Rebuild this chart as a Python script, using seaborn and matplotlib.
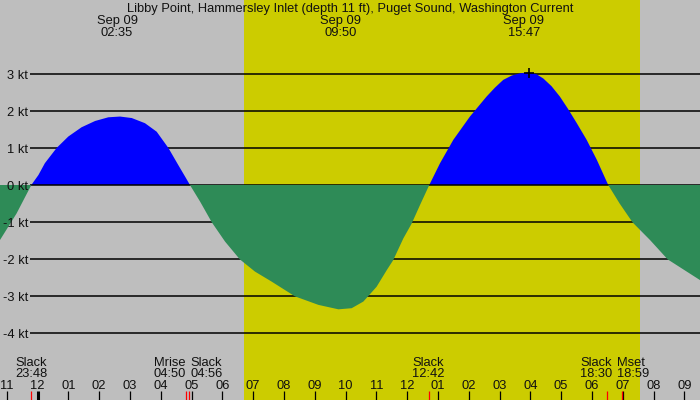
import matplotlib
matplotlib.use("Agg")
import matplotlib.pyplot as plt
import matplotlib.transforms as mtransforms
import numpy as np
import pandas as pd
import seaborn as sns

# ---------------- data ----------------
title = "Libby Point, Hammersley Inlet (depth 11 ft), Puget Sound, Washington Current"

# tidal current, hours after 00:00 Sep 09, knots
curve_hours = [-1.22, -0.95, -0.68, -0.20,
               0.03, 0.24, 0.62, 1.00, 1.43, 1.87, 2.30, 2.68, 3.06, 3.49,
               3.87, 4.25, 4.57, 4.79, 4.95,
               5.28, 5.66, 6.09, 6.57, 7.06, 7.60, 8.36, 9.12, 9.77, 10.20,
               10.58, 11.01, 11.34, 11.55, 11.88, 12.15, 12.42, 12.72,
               13.07, 13.50, 14.04, 14.58, 14.85, 15.12, 15.40, 15.67, 15.95,
               16.21, 16.42, 16.69, 16.96, 17.23, 17.51, 17.83, 18.16, 18.53,
               18.90, 19.32, 19.89, 20.46, 21.51]
curve_knots = [-1.49, -1.13, -0.77, 0.00,
               0.27, 0.59, 1.00, 1.31, 1.56, 1.73, 1.83, 1.85, 1.81, 1.67,
               1.44, 1.00, 0.54, 0.23, 0.00,
               -0.45, -1.01, -1.53, -2.01, -2.34, -2.61, -3.01, -3.24, -3.36, -3.33,
               -3.15, -2.75, -2.30, -2.03, -1.44, -1.04, -0.54, 0.00,
               0.59, 1.22, 1.85, 2.39, 2.63, 2.84, 2.96, 3.02, 3.04,
               2.99, 2.88, 2.67, 2.39, 2.05, 1.67, 1.22, 0.68, 0.00,
               -0.50, -1.01, -1.49, -2.01, -2.57]

level_values = [3, 2, 1, 0, -1, -2, -3, -4]
level_labels = ["3 kt", "2 kt", "1 kt", "0 kt", "-1 kt", "-2 kt", "-3 kt", "-4 kt"]

hour_ticks = list(range(-1, 22))
hour_labels = ["11", "12", "01", "02", "03", "04", "05", "06", "07", "08", "09",
               "10", "11", "12", "01", "02", "03", "04", "05", "06", "07", "08", "09"]

extreme_hours = [2 + 35 / 60, 9 + 50 / 60, 15 + 47 / 60]
extreme_dates = ["Sep 09", "Sep 09", "Sep 09"]
extreme_times = ["02:35", "09:50", "15:47"]

event_names = ["Slack", "Mrise", "Slack", "Slack", "Slack", "Mset"]
event_times = ["23:48", "04:50", "04:56", "12:42", "18:30", "18:59"]
event_hours = [-12 / 60, 4 + 50 / 60, 4 + 56 / 60, 12 + 42 / 60, 18 + 30 / 60, 18 + 59 / 60]
event_align = ["center", "right", "left", "center", "right", "left"]

sunrise_hour = 6 + 42 / 60
sunset_hour = 19 + 34 / 60
midnight_hour = 0.0

# ---------------- style ----------------
sns.set_style("white")
plt.rcParams["font.family"] = ["Liberation Sans", "DejaVu Sans"]
FS = 9.3
TXT = "#111111"

GREY = "#bebebe"
YELLOW = "#cccc00"
BLUE = "#0000ff"
GREEN = "#2e8b57"

W, H = 700, 400
PX_PER_HR = 30.8
X0 = 37.5          # pixel of midnight
PX_PER_KT = 37.0
Y0 = 185.0         # pixel of 0 kt

fig = plt.figure(figsize=(7, 4), dpi=100)
fig.patch.set_facecolor(GREY)
ax = fig.add_axes([0, 0, 1, 1])

XL = (-X0 / PX_PER_HR, (W - X0) / PX_PER_HR)
YL = (-(H - Y0) / PX_PER_KT, Y0 / PX_PER_KT)


def fy(py):
    return 1 - py / H


blend = mtransforms.blended_transform_factory(ax.transData, ax.transAxes)

df = pd.DataFrame({"hour": curve_hours, "knots": curve_knots})

# daylight
ax.axvspan(sunrise_hour, sunset_hour, color=YELLOW, zorder=0, lw=0)

# level lines
line_start = (30 - X0) / PX_PER_HR
for v, lab in zip(level_values, level_labels):
    ax.hlines(v, line_start, XL[1], color="black", lw=1.1, zorder=3 if v == 0 else 1)
    ax.text(28 / W, fy(Y0 - v * PX_PER_KT + 4.6), lab, transform=ax.transAxes,
            ha="right", va="baseline", fontsize=FS, color=TXT, zorder=10)

# current fills
ax.fill_between(df["hour"], df["knots"], 0, where=df["knots"] >= 0,
                interpolate=True, color=BLUE, lw=0, zorder=2)
ax.fill_between(df["hour"], df["knots"], 0, where=df["knots"] <= 0,
                interpolate=True, color=GREEN, lw=0, zorder=4)

# peak marker
imax = int(df["knots"].idxmax())
sns.scatterplot(x=[df["hour"][imax]], y=[df["knots"][imax]], marker="+",
                s=60, color="black", linewidth=1.2, ax=ax, zorder=6, legend=False)

ax.set_xlim(*XL)
ax.set_ylim(*YL)
ax.axis("off")

# title and extremes
ax.text(0.5, fy(11.7), title, transform=ax.transAxes, ha="center", va="baseline",
        fontsize=FS, color=TXT)
for h, d, t in zip(extreme_hours, extreme_dates, extreme_times):
    ax.text(h, fy(24.3), d, transform=blend, ha="center", va="baseline", fontsize=FS, color=TXT)
    ax.text(h, fy(36.0), t, transform=blend, ha="center", va="baseline", fontsize=FS, color=TXT)

# hour ticks
for h, lab in zip(hour_ticks, hour_labels):
    ax.text(h, fy(389.3), lab, transform=blend, ha="center", va="baseline", fontsize=FS, color=TXT)
    ax.plot([h, h], [fy(391), fy(400)], transform=blend, color="black",
            lw=2.2 if h == midnight_hour else 0.9, zorder=5, solid_capstyle="butt")

# events
dpx = 2.5 / PX_PER_HR
for i, (n, t, h, a) in enumerate(zip(event_names, event_times, event_hours, event_align)):
    if a == "right":
        xpos = (h + event_hours[i + 1]) / 2 - dpx
    elif a == "left":
        xpos = (h + event_hours[i - 1]) / 2 + dpx
    else:
        xpos = h
    ax.text(xpos, fy(366), n, transform=blend, ha=a, va="baseline", fontsize=FS, color=TXT)
    ax.text(xpos, fy(377.3), t, transform=blend, ha=a, va="baseline", fontsize=FS, color=TXT)
    ax.plot([h, h], [fy(391), fy(400)], transform=blend, color="red", lw=0.9,
            zorder=6, solid_capstyle="butt")

fig.savefig("out.png", dpi=100, facecolor=GREY)
